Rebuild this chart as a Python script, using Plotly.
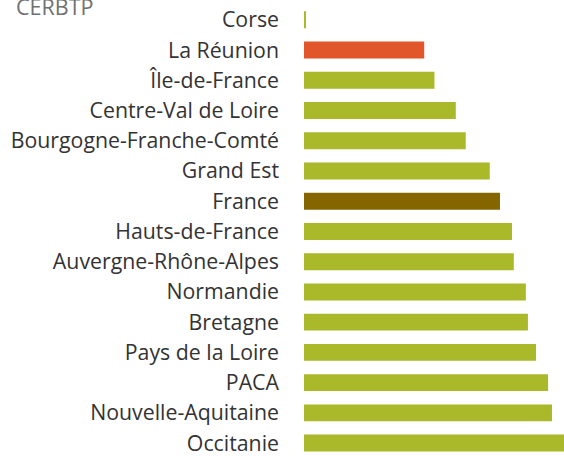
import plotly.graph_objects as go

regions = ["Corse", "La Réunion", "Île-de-France", "Centre-Val de Loire",
           "Bourgogne-Franche-Comté", "Grand Est", "France", "Hauts-de-France",
           "Auvergne-Rhône-Alpes", "Normandie", "Bretagne", "Pays de la Loire",
           "PACA", "Nouvelle-Aquitaine", "Occitanie"]
values = [0.2, 20.0, 21.7, 25.25, 26.9, 30.9, 32.6, 34.6, 34.9, 36.9, 37.25,
          38.6, 40.6, 41.25, 43.25]

GREEN = "#A9B92A"
ORANGE = "#E1562B"
BROWN = "#846500"
colors = [ORANGE if r == "La Réunion" else BROWN if r == "France" else GREEN
          for r in regions]

fig = go.Figure(go.Bar(
    x=values, y=regions, orientation="h",
    marker=dict(color=colors, line=dict(width=0)),
    width=0.56, hoverinfo="x+y",
))

W, H, L = 564, 456, 304
fig.update_layout(
    width=W, height=H,
    margin=dict(l=L, r=0, t=0, b=0),
    paper_bgcolor="white", plot_bgcolor="white",
    showlegend=False,
    font=dict(family="Open Sans", size=21, color="#333333"),
    xaxis=dict(range=[0, 43.25], visible=False, fixedrange=True),
    yaxis=dict(type="category", range=[14.295, -0.656], showgrid=False,
               showline=False, zeroline=False, ticks="", fixedrange=True,
               ticklabelstandoff=24,
               tickfont=dict(family="Open Sans", size=21.3, color="#333333")),
    annotations=[dict(text="CERBTP", x=-(L - 14) / (W - L), y=1 - 23 / H,
                      xref="paper", yref="paper",
                      xanchor="left", yanchor="bottom", showarrow=False,
                      font=dict(family="Open Sans", size=21.5, color="#707070"))],
)

fig.write_html("out.html", config={"displayModeBar": False},
               post_script="document.body.style.margin='0';document.body.style.padding='0';")
